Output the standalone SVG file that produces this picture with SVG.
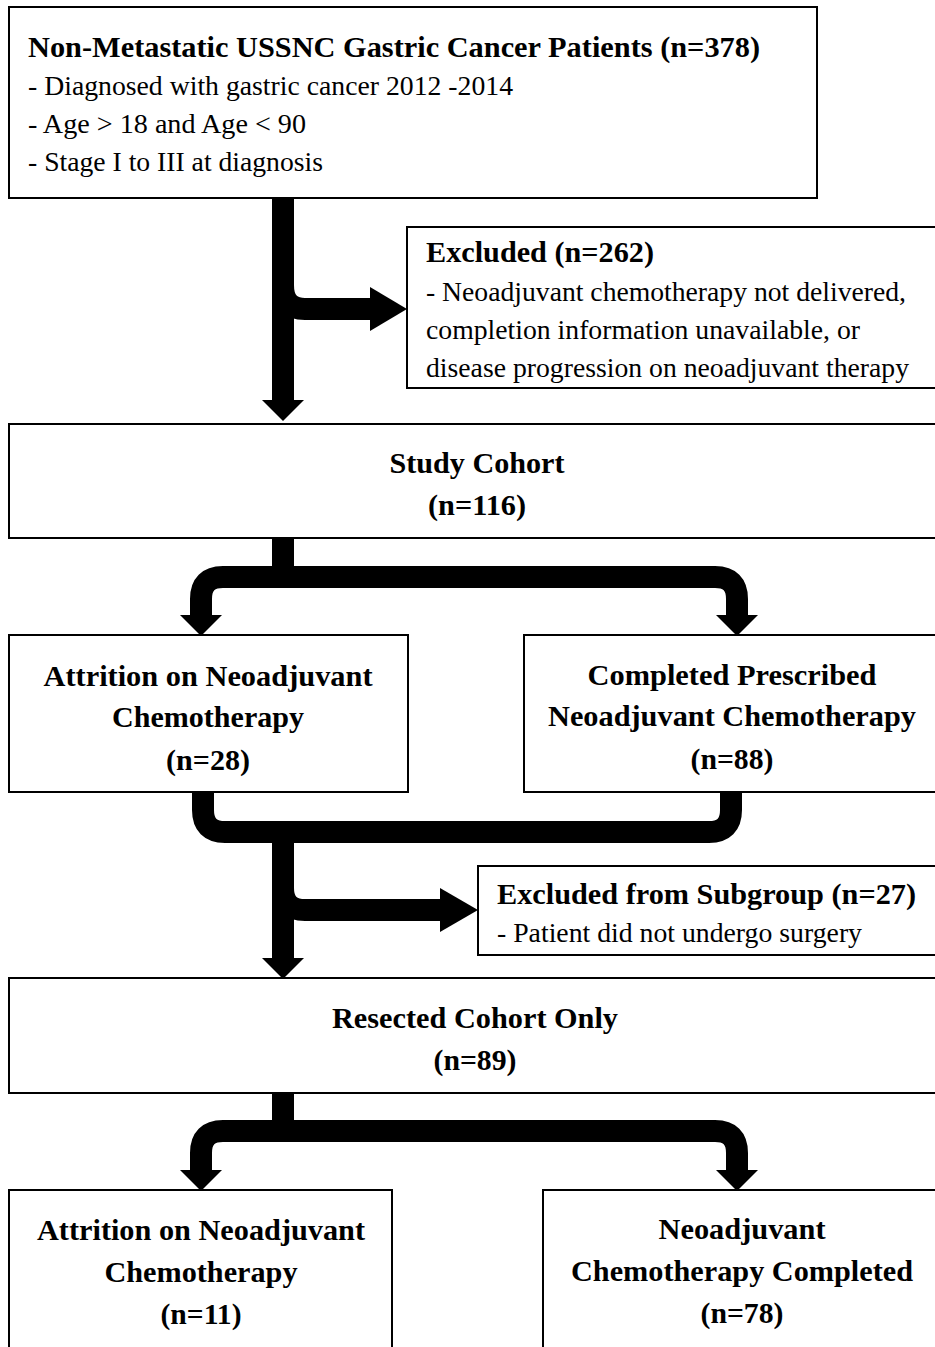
<svg xmlns="http://www.w3.org/2000/svg" width="935" height="1347" viewBox="0 0 935 1347">
<style>
.box{fill:#fff;stroke:#000;stroke-width:2}
.b{font-family:"Liberation Serif",serif;font-weight:bold;font-size:29px;fill:#000}
.r{font-family:"Liberation Serif",serif;font-size:27px;fill:#000}
.c{text-anchor:middle}
.line{fill:none;stroke:#000;stroke-width:22}
.head{fill:#000}
</style>
<rect width="935" height="1347" fill="#fff"/>
<g id="connectors">
<path class="line" d="M283,197 L283,402"/>
<path class="line" d="M283,285 Q283,309 305,309 L372,309"/>
<polygon class="head" points="262,400 304,400 283,421"/>
<polygon class="head" points="370,287 370,331 407,309"/>
<path class="line" d="M283,537 L283,577"/>
<path class="line" d="M201,617 L201,599 Q201,577 223,577 L715,577 Q737,577 737,599 L737,617"/>
<polygon class="head" points="180,615 222,615 201,636"/>
<polygon class="head" points="716,615 758,615 737,636"/>
<path class="line" d="M203,791 L203,810 Q203,832 225,832 L709,832 Q731,832 731,810 L731,791"/>
<path class="line" d="M283,832 L283,960"/>
<polygon class="head" points="262,958 304,958 283,979"/>
<path class="line" d="M283,888 Q283,910 305,910 L442,910"/>
<polygon class="head" points="440,888 440,932 478,910"/>
<path class="line" d="M283,1092 L283,1131"/>
<path class="line" d="M201,1172 L201,1153 Q201,1131 223,1131 L715,1131 Q737,1131 737,1153 L737,1172"/>
<polygon class="head" points="180,1170 222,1170 201,1191"/>
<polygon class="head" points="716,1170 758,1170 737,1191"/>
</g>
<g id="n1">
<rect class="box" x="9" y="7" width="808" height="191"/>
<text class="b" x="28" y="57" textLength="732" lengthAdjust="spacingAndGlyphs">Non-Metastatic USSNC Gastric Cancer Patients (n=378)</text>
<text class="r" x="28" y="95" textLength="485" lengthAdjust="spacingAndGlyphs">- Diagnosed with gastric cancer 2012 -2014</text>
<text class="r" x="28" y="133" textLength="278" lengthAdjust="spacingAndGlyphs">- Age &gt; 18 and Age &lt; 90</text>
<text class="r" x="28" y="171" textLength="295" lengthAdjust="spacingAndGlyphs">- Stage I to III at diagnosis</text>
</g>
<g id="n2">
<rect class="box" x="407" y="227" width="540" height="161"/>
<text class="b" x="426" y="262" textLength="228" lengthAdjust="spacingAndGlyphs">Excluded (n=262)</text>
<text class="r" x="426" y="301" textLength="480" lengthAdjust="spacingAndGlyphs">- Neoadjuvant chemotherapy not delivered,</text>
<text class="r" x="426" y="339" textLength="434" lengthAdjust="spacingAndGlyphs">completion information unavailable, or</text>
<text class="r" x="426" y="377" textLength="483" lengthAdjust="spacingAndGlyphs">disease progression on neoadjuvant therapy</text>
</g>
<g id="n3">
<rect class="box" x="9" y="424" width="938" height="114"/>
<text class="b c" x="477" y="473" textLength="175" lengthAdjust="spacingAndGlyphs">Study Cohort</text>
<text class="b c" x="477" y="515" textLength="98" lengthAdjust="spacingAndGlyphs">(n=116)</text>
</g>
<g id="n4">
<rect class="box" x="9" y="635" width="399" height="157"/>
<text class="b c" x="208" y="686" textLength="329" lengthAdjust="spacingAndGlyphs">Attrition on Neoadjuvant</text>
<text class="b c" x="208" y="727" textLength="192" lengthAdjust="spacingAndGlyphs">Chemotherapy</text>
<text class="b c" x="208" y="770" textLength="84" lengthAdjust="spacingAndGlyphs">(n=28)</text>
</g>
<g id="n5">
<rect class="box" x="524" y="635" width="423" height="157"/>
<text class="b c" x="732" y="685" textLength="289" lengthAdjust="spacingAndGlyphs">Completed Prescribed</text>
<text class="b c" x="732" y="726" textLength="368" lengthAdjust="spacingAndGlyphs">Neoadjuvant Chemotherapy</text>
<text class="b c" x="732" y="769" textLength="83" lengthAdjust="spacingAndGlyphs">(n=88)</text>
</g>
<g id="n6">
<rect class="box" x="478" y="866" width="469" height="89"/>
<text class="b" x="497" y="904" textLength="419" lengthAdjust="spacingAndGlyphs">Excluded from Subgroup (n=27)</text>
<text class="r" x="497" y="942" textLength="365" lengthAdjust="spacingAndGlyphs">- Patient did not undergo surgery</text>
</g>
<g id="n7">
<rect class="box" x="9" y="978" width="938" height="115"/>
<text class="b c" x="475" y="1028" textLength="286" lengthAdjust="spacingAndGlyphs">Resected Cohort Only</text>
<text class="b c" x="475" y="1070" textLength="83" lengthAdjust="spacingAndGlyphs">(n=89)</text>
</g>
<g id="n8">
<rect class="box" x="9" y="1190" width="383" height="170"/>
<text class="b c" x="201" y="1240" textLength="328" lengthAdjust="spacingAndGlyphs">Attrition on Neoadjuvant</text>
<text class="b c" x="201" y="1282" textLength="193" lengthAdjust="spacingAndGlyphs">Chemotherapy</text>
<text class="b c" x="201" y="1324" textLength="81" lengthAdjust="spacingAndGlyphs">(n=11)</text>
</g>
<g id="n9">
<rect class="box" x="543" y="1190" width="404" height="170"/>
<text class="b c" x="742" y="1239" textLength="167" lengthAdjust="spacingAndGlyphs">Neoadjuvant</text>
<text class="b c" x="742" y="1281" textLength="342" lengthAdjust="spacingAndGlyphs">Chemotherapy Completed</text>
<text class="b c" x="742" y="1323" textLength="83" lengthAdjust="spacingAndGlyphs">(n=78)</text>
</g>
</svg>
